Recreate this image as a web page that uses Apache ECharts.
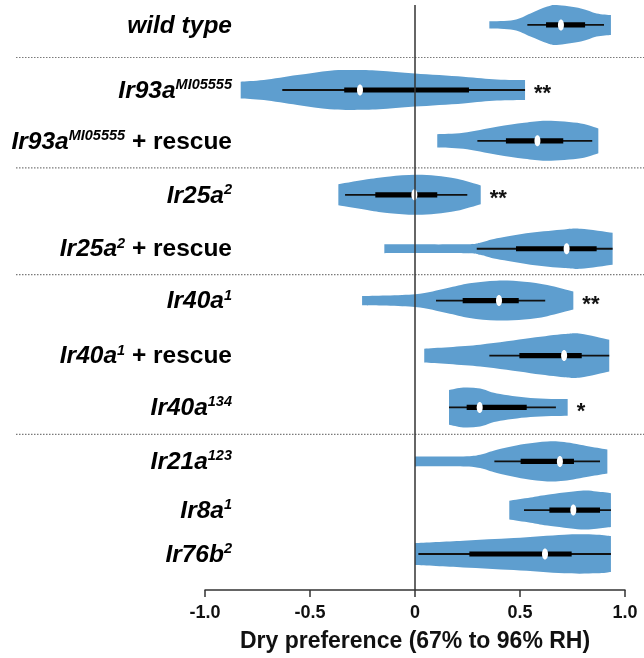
<!DOCTYPE html>
<html><head><meta charset="utf-8">
<script src="https://cdn.jsdelivr.net/npm/echarts@6/dist/echarts.min.js"></script>
<style>html,body{margin:0;padding:0;background:#fff}#c{width:644px;height:658px}</style>
</head><body><div id="c"></div>
<script>
// ---- data ----
const labelMain   = ['wild type','Ir93a','Ir93a','Ir25a','Ir25a','Ir40a','Ir40a','Ir40a','Ir21a','Ir8a','Ir76b'];
const labelSup    = ['','MI05555','MI05555','2','2','1','1','134','123','1','2'];
const labelSuffix = ['','',' + rescue','',' + rescue','',' + rescue','','','',''];
const whiskerLow  = [0.535,-0.632,0.297,-0.333,0.294,0.100,0.354,0.162,0.378,0.519,0.016];
const q1          = [0.624,-0.337,0.433,-0.189,0.481,0.227,0.497,0.246,0.503,0.640,0.259];
const median      = [0.695,-0.262,0.583,-0.003,0.722,0.400,0.710,0.308,0.690,0.754,0.619];
const q3          = [0.810, 0.257,0.706, 0.106,0.865,0.494,0.794,0.532,0.757,0.881,0.746];
const whiskerHigh = [0.900, 0.524,0.844, 0.249,0.941,0.620,0.925,0.671,0.881,0.933,0.933];
// violin outline: [value, relative half-width]
const density = [
  [[0.354,0.18],[0.47,0.25],[0.55,0.58],[0.63,0.92],[0.675,1.0],[0.79,0.83],[0.865,0.58],[0.933,0.5]],
  [[-0.83,0.42],[-0.72,0.5],[-0.56,0.75],[-0.405,0.97],[-0.29,1.0],[-0.17,0.97],[0,0.83],[0.23,0.67],[0.39,0.53],[0.524,0.5]],
  [[0.106,0.33],[0.23,0.4],[0.39,0.7],[0.52,0.9],[0.63,1.0],[0.79,0.87],[0.873,0.62]],
  [[-0.365,0.53],[-0.21,0.8],[-0.12,0.92],[0,1.0],[0.1,0.95],[0.2,0.8],[0.313,0.47]],
  [[-0.146,0.22],[0.23,0.22],[0.31,0.3],[0.39,0.52],[0.55,0.8],[0.71,0.97],[0.79,1.0],[0.941,0.8]],
  [[-0.252,0.23],[0,0.32],[0.15,0.62],[0.26,0.87],[0.39,1.0],[0.52,0.95],[0.63,0.78],[0.754,0.45]],
  [[0.044,0.35],[0.31,0.55],[0.55,0.88],[0.71,1.08],[0.79,1.1],[0.925,0.8]],
  [[0.162,0.87],[0.23,1.0],[0.31,0.95],[0.39,0.7],[0.55,0.48],[0.727,0.42]],
  [[0,0.25],[0.23,0.25],[0.31,0.33],[0.39,0.58],[0.52,0.87],[0.63,1.0],[0.71,0.97],[0.83,0.75],[0.916,0.6]],
  [[0.449,0.47],[0.55,0.63],[0.63,0.77],[0.79,0.97],[0.865,0.93],[0.933,0.85]],
  [[0,0.55],[0.23,0.67],[0.47,0.8],[0.71,0.97],[0.865,0.97],[0.933,0.9]]
];
const significance = ['','**','','**','','**','','*','','',''];
const separatorAfter = [0,2,4,7];
const xTickLabels = ['-1.0','-0.5','0','0.5','1.0'];

// ---- layout ----
const rowPosition = [0,1.23,2.19,3.21,4.23,5.21,6.25,7.23,8.25,9.17,10.0];
const FONT = '"Liberation Sans", Arial, Helvetica, sans-serif';
const VIOLIN = '#5e9ecf';

function catmull(pts){
  let d='';
  for(let k=0;k<pts.length-1;k++){
    const p0=pts[k-1]||pts[k], p1=pts[k], p2=pts[k+1], p3=pts[k+2]||pts[k+1];
    const c1=[p1[0]+(p2[0]-p0[0])/6, p1[1]+(p2[1]-p0[1])/6];
    const c2=[p2[0]-(p3[0]-p1[0])/6, p2[1]-(p3[1]-p1[1])/6];
    d+=` C${c1[0]} ${c1[1]} ${c2[0]} ${c2[1]} ${p2[0]} ${p2[1]}`;
  }
  return d;
}

function renderItem(params, api){
  const i = api.value(2);
  const pos = rowPosition[i];
  const yc = api.coord([0,pos])[1];
  const unit = api.size([0,1])[1];
  const maxHalf = 0.377*unit;
  const X = v => api.coord([v,pos])[0];
  const top = density[i].map(([x,d]) => [X(x), yc - d*maxHalf]);
  const bot = density[i].map(([x,d]) => [X(x), yc + d*maxHalf]).reverse();
  const path = `M${top[0][0]} ${top[0][1]}` + catmull(top) + ` L${bot[0][0]} ${bot[0][1]}` + catmull(bot) + ' Z';
  const children = [
    {type:'path', shape:{pathData:path}, style:{fill:VIOLIN}},
    {type:'line', shape:{x1:X(whiskerLow[i]),y1:yc,x2:X(whiskerHigh[i]),y2:yc}, style:{stroke:'#111',lineWidth:1.8}},
    {type:'rect', shape:{x:X(q1[i]),y:yc-2.6,width:X(q3[i])-X(q1[i]),height:5.2}, style:{fill:'#000'}},
    {type:'ellipse', shape:{cx:X(median[i]),cy:yc,rx:3,ry:5.5}, style:{fill:'#fff'}}
  ];
  if (significance[i]) {
    const right = density[i][density[i].length-1][0];
    children.push({type:'text', style:{x:X(right)+9, y:yc+4, text:significance[i], fill:'#111',
      font:`bold 22px ${FONT}`, align:'left', verticalAlign:'middle'}});
  }
  let txt = `{i|${labelMain[i]}}`;
  if (labelSup[i]) txt += `{s|${labelSup[i]}}`;
  if (labelSuffix[i]) txt += `{n|${labelSuffix[i]}}`;
  children.push({type:'text', style:{x:X(-1)+27, y:yc+1, text:txt, align:'right', verticalAlign:'middle',
    rich:{
      i:{fontFamily:FONT,fontSize:24.5,fontWeight:'bold',fontStyle:'italic',fill:'#000',lineHeight:27},
      s:{fontFamily:FONT,fontSize:14.5,fontWeight:'bold',fontStyle:'italic',fill:'#000',lineHeight:15,verticalAlign:'top'},
      n:{fontFamily:FONT,fontSize:24.5,fontWeight:'bold',fontStyle:'normal',fill:'#000',lineHeight:27}
    }}});
  if (separatorAfter.indexOf(i) >= 0) {
    const ys = api.coord([0,(pos+rowPosition[i+1])/2])[1];
    children.push({type:'line', shape:{x1:16,y1:ys,x2:api.getWidth(),y2:ys},
      style:{stroke:'#7a7a7a',lineWidth:1.2,lineDash:[1.5,1.5]}});
  }
  return {type:'group', children};
}

const chart = echarts.init(document.getElementById('c'));
chart.setOption({
  animation:false,
  grid:{left:205,right:19,top:5,bottom:67},
  xAxis:{type:'value',min:-1,max:1,interval:0.5,position:'bottom',
    axisLine:{show:true,onZero:false,lineStyle:{color:'#333',width:1.5}},
    axisTick:{show:true,length:7,lineStyle:{color:'#333',width:1.5}},
    splitLine:{show:false},
    axisLabel:{margin:14,color:'#111',fontFamily:FONT,fontSize:18,fontWeight:'bold',
      formatter:(v)=>xTickLabels[Math.round((v+1)/0.5)]},
    name:'Dry preference (67% to 96% RH)',nameLocation:'middle',nameGap:40,
    nameTextStyle:{color:'#111',fontFamily:FONT,fontSize:23,fontWeight:'bold'}},
  yAxis:{type:'value',inverse:true,min:-0.377,max:10.68,show:false},
  series:[
    {type:'custom',renderItem,clip:false,
      encode:{x:0,y:1},
      data:median.map((m,i)=>[m,rowPosition[i],i]),z:2},
    {type:'line',data:[[0,-0.377],[0,10.68]],symbol:'none',silent:true,
      lineStyle:{color:'#333',width:1.5},z:5}
  ]
});
</script></body></html>
